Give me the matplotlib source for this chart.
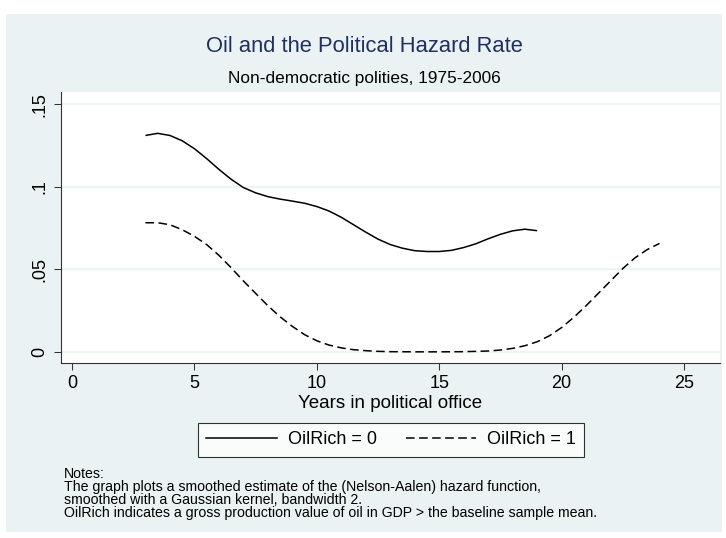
import matplotlib
matplotlib.use("Agg")
import matplotlib.pyplot as plt
from matplotlib.patches import Rectangle
from matplotlib.lines import Line2D

plt.rcParams['font.family'] = ['Liberation Sans', 'DejaVu Sans']
plt.rcParams['lines.scale_dashes'] = False

# ---- data ----
years_0 = [3.0, 3.5, 4.0, 4.5, 5.0, 5.5, 6.0, 6.5, 7.0, 7.5, 8.0, 8.5, 9.0, 9.5,
           10.0, 10.5, 11.0, 11.5, 12.0, 12.5, 13.0, 13.5, 14.0, 14.5, 15.0,
           15.5, 16.0, 16.5, 17.0, 17.5, 18.0, 18.5, 19.0]
hazard_0 = [0.1310, 0.1323, 0.1310, 0.1278, 0.1230, 0.1170, 0.1105, 0.1045,
            0.0995, 0.0963, 0.0940, 0.0925, 0.0913, 0.0900, 0.0880, 0.0853,
            0.0815, 0.0770, 0.0725, 0.0683, 0.0650, 0.0628, 0.0613, 0.0608,
            0.0608, 0.0615, 0.0632, 0.0655, 0.0685, 0.0712, 0.0733, 0.0743,
            0.0734]

years_1 = [3.0, 3.5, 4.0, 4.5, 5.0, 5.5, 6.0, 6.5, 7.0, 7.5, 8.0, 8.5, 9.0, 9.5,
           10.0, 10.5, 11.0, 11.5, 12.0, 12.5, 13.0, 14.0, 15.0, 16.0, 17.0,
           17.5, 18.0, 18.5, 19.0, 19.5, 20.0, 20.5, 21.0, 21.5, 22.0, 22.5,
           23.0, 23.5, 24.0]
hazard_1 = [0.0782, 0.0782, 0.0770, 0.0740, 0.0700, 0.0650, 0.0585, 0.0510,
            0.0430, 0.0355, 0.0280, 0.0213, 0.0155, 0.0105, 0.0068, 0.0042,
            0.0025, 0.0014, 0.0008, 0.0004, 0.0002, 0.0001, 0.0001, 0.0002,
            0.0006, 0.0012, 0.0022, 0.0038, 0.0062, 0.0098, 0.0148, 0.0210,
            0.0280, 0.0355, 0.0430, 0.0505, 0.0570, 0.0620, 0.0657]

x_ticks = [0, 5, 10, 15, 20, 25]
x_tick_labels = ['0', '5', '10', '15', '20', '25']
y_ticks = [0, 0.05, 0.1, 0.15]
y_tick_labels = ['0', '.05', '.1', '.15']
series_labels = ['OilRich = 0', 'OilRich = 1']

title = 'Oil and the Political Hazard Rate'
subtitle = 'Non-democratic polities, 1975-2006'
xlabel = 'Years in political office'
notes = ['Notes:',
         'The graph plots a smoothed estimate of the (Nelson-Aalen) hazard function,',
         'smoothed with a Gaussian kernel, bandwidth 2.',
         'OilRich indicates a gross production value of oil in GDP > the baseline sample mean.']

# ---- figure ----
W, H = 726, 538
fig = plt.figure(figsize=(W / 100, H / 100), dpi=100, facecolor='white')

def fx(px):
    return px / W

def fy(py):
    return 1 - py / H

bg = '#EAF2F3'
fig.patches.append(Rectangle((fx(6), fy(532)), fx(722) - fx(6), fy(14) - fy(532),
                             transform=fig.transFigure, facecolor=bg,
                             edgecolor='none', zorder=-10))

left, right, top, bottom = 61, 720, 92, 363
ax = fig.add_axes([fx(left), fy(bottom), fx(right) - fx(left), fy(top) - fy(bottom)])
ax.set_zorder(1)
ax.set_facecolor('white')

ax.plot(years_0, hazard_0, color='black', lw=1.1, solid_capstyle='butt')
ax.plot(years_1, hazard_1, color='black', lw=1.1, linestyle=(0, (6.2, 3.2)))

ax.set_xlim(-0.45, 26.47)
ax.set_ylim(-0.00665, 0.1573)

ax.set_xticks(x_ticks)
ax.set_xticklabels(x_tick_labels, fontsize=13)
ax.set_yticks(y_ticks)
ax.set_yticklabels(y_tick_labels, fontsize=13, rotation=90, va='center')
ax.tick_params(axis='both', direction='out', length=5, width=0.75, color='#333333', pad=4)

for s in ['top', 'right']:
    ax.spines[s].set_visible(False)
for s in ['left', 'bottom']:
    ax.spines[s].set_color('#333333')
    ax.spines[s].set_linewidth(0.8)

ax.yaxis.grid(True, color=bg, lw=1.2)
ax.set_axisbelow(True)

ax.set_xlabel(xlabel, fontsize=13.5, labelpad=1.5)

fig.text(fx(364), fy(47), title, fontsize=15.8, color='#1F3160',
         ha='center', va='center')
fig.text(fx(364), fy(78), subtitle, fontsize=12.4, color='black',
         ha='center', va='center')

handles = [Line2D([], [], color='black', lw=1.1),
           Line2D([], [], color='black', lw=1.1, linestyle=(0, (6.2, 3.2)))]
leg = fig.legend(handles, series_labels, loc='center',
                 bbox_to_anchor=(fx(391), fy(440)), ncol=2, fontsize=13,
                 frameon=True, fancybox=False, handlelength=3.9,
                 handletextpad=0.6, columnspacing=1.6, borderpad=0.45,
                 borderaxespad=0)
leg.get_frame().set_edgecolor('black')
leg.get_frame().set_linewidth(0.8)
leg.get_frame().set_facecolor('white')

note_y = [474, 487, 500, 513]
for txt, yy in zip(notes, note_y):
    fig.text(fx(64), fy(yy), txt, fontsize=10.2, ha='left', va='center')

fig.savefig('out.png', dpi=100, facecolor='white')
